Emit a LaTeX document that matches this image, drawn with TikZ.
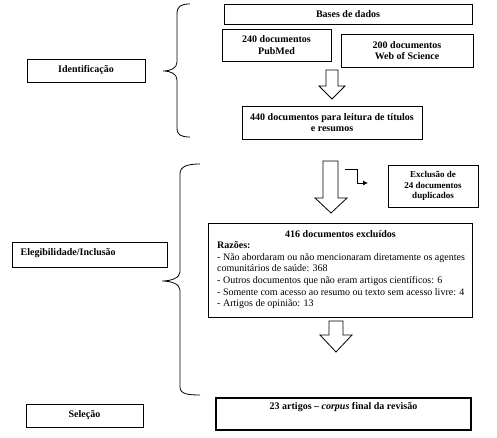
\documentclass[tikz,border=0pt]{standalone}
\usepackage{fontspec}
\setmainfont{Liberation Serif}
\usetikzlibrary{arrows.meta}
\begin{document}
\begin{tikzpicture}[x=1pt,y=-1pt,
  box/.style={draw, line width=0.8pt, inner sep=0pt, font=\fontsize{10}{11.5}\selectfont\bfseries\frenchspacing, align=center},
  plain/.style={inner sep=0pt, font=\fontsize{10}{11.5}\selectfont\frenchspacing},
  blockarrow/.style={draw, line width=0.8pt, fill=white, line join=miter},
  brace/.style={draw, line width=0.8pt}]
\useasboundingbox[fill=white] (0,0) rectangle (497,438);

% left column
\node[box, minimum width=118, minimum height=23] (ident) at (86,70.5) {Identificação};
\node[box, minimum width=155, minimum height=25] (eleg) at (89.5,254.5) {};
\node[plain, font=\fontsize{10}{11.5}\selectfont\bfseries, anchor=west] (elegt) at (20.5,253) {Elegibilidade/Inclusão};
\node[box, minimum width=117, minimum height=23] (sel) at (84.5,415.5) {Seleção};

% right column top
\node[box, minimum width=248, minimum height=20] (bases) at (348,14) {Bases de dados};
\node[box, minimum width=109, minimum height=32] (pub) at (276.5,45) {240 documentos\\PubMed};
\node[box, minimum width=132, minimum height=33] (wos) at (407,50.5) {200 documentos\\Web of Science};
\node[box, minimum width=180, minimum height=33] (n440) at (332,122.5) {440 documentos para leitura de títulos\\e resumos};

% exclusion box
\node[box, minimum width=90, minimum height=42, font=\fontsize{9}{10.5}\selectfont\bfseries] (excl) at (433,186) {Exclusão de\\24 documentos\\duplicados};

% 416 box
\node[draw, line width=0.8pt, minimum width=264, minimum height=94, inner sep=0pt] (n416) at (340,270) {};
\node[plain, font=\fontsize{10}{11.5}\selectfont\bfseries] (t416) at (340.5,234.5) {416 documentos excluídos};
\node[plain, font=\fontsize{10}{11.6}\selectfont, anchor=north west, align=left] (r416) at (217,241.5) {\textbf{Razões:}\\
- Não abordaram ou não mencionaram diretamente os agentes\\comunitários de saúde: 368\\
- Outros documentos que não eram artigos científicos: 6\\
- Somente com acesso ao resumo ou texto sem acesso livre: 4\\
- Artigos de opinião: 13};

% final box
\node[draw, line width=2pt, minimum width=255, minimum height=32, inner sep=0pt] (n23) at (343.5,414) {};
\node[plain, font=\fontsize{10}{11.5}\selectfont\bfseries] (t23) at (343.5,407) {23 artigos – \textit{corpus} final da revisão};

% block arrows
\draw[blockarrow] (326,70) -- (338,70) -- (338,86) -- (345,86) -- (332,99) -- (319,86) -- (326,86) -- cycle;
\draw[blockarrow] (323,161) -- (338,161) -- (338,198) -- (347,198) -- (331,213) -- (315,198) -- (323,198) -- cycle;
\draw[blockarrow] (329,321) -- (343,321) -- (343,335) -- (352,335) -- (336,352) -- (320,335) -- (329,335) -- cycle;

% elbow arrow
\coordinate (e1) at (345,169);
\coordinate (e2) at (368,183);
\draw[line width=0.8pt, -{Latex[length=5pt,width=5pt]}] (e1) -- (357,169) -- (357,183) -- (e2);

% braces
\draw[brace] (190,4) .. controls (181,4) and (177,6) .. (177,14) -- (177,62)
  .. controls (177,68) and (171,71) .. (163,71)
  .. controls (171,71) and (177,74) .. (177,80) -- (177,128)
  .. controls (177,135) and (181,137) .. (190,137);
\draw[brace] (200,164) .. controls (188,164) and (180,166) .. (180,174) -- (180,272)
  .. controls (180,278) and (171,281) .. (162,281)
  .. controls (171,281) and (180,284) .. (180,290) -- (180,387)
  .. controls (180,394) and (188,395) .. (200,395);
\end{tikzpicture}
\end{document}
